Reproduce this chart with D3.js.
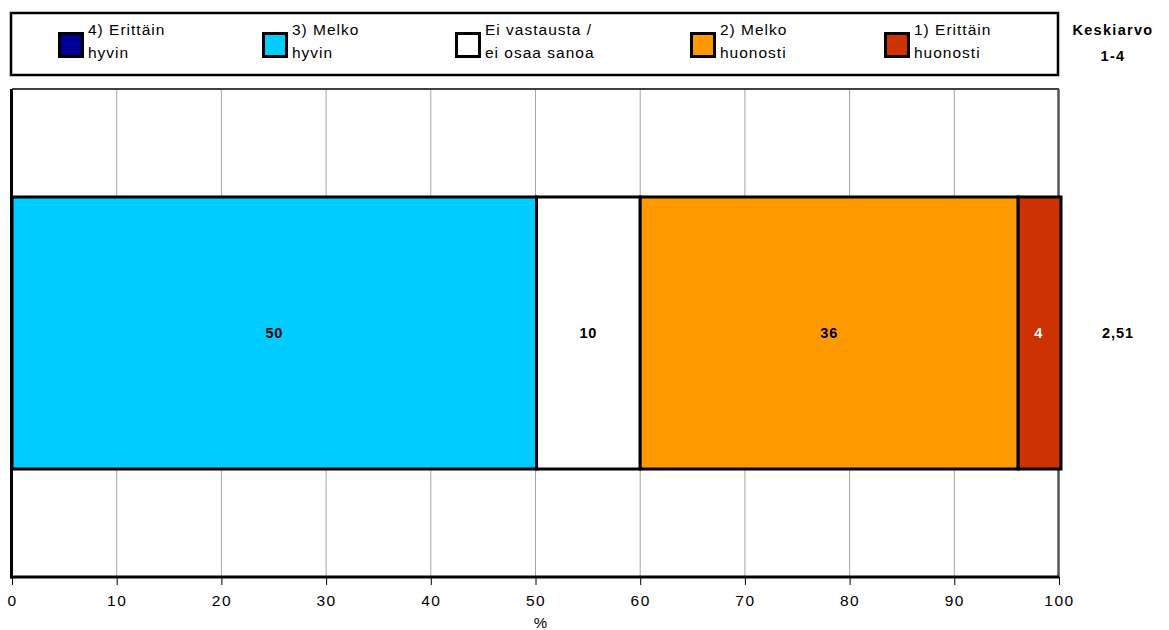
<!DOCTYPE html>
<html><head><meta charset="utf-8">
<script src="https://cdn.jsdelivr.net/npm/d3@7"></script>
<style>html,body{margin:0;padding:0;background:#fff;}svg{display:block;font-family:"Liberation Sans",Arial,sans-serif;}</style>
</head><body>
<svg id="c" width="1169" height="630"></svg>
<script>
const categories = [""];
const seriesNames = [["4) Erittäin","hyvin"],["3) Melko","hyvin"],["Ei vastausta /","ei osaa sanoa"],["2) Melko","huonosti"],["1) Erittäin","huonosti"]];
const seriesColors = ["#000099","#00CCFF","#FFFFFF","#FF9900","#CC3300"];
const labelColors = ["#fff","#000","#000","#000","#fff"];
const values = [0, 50.1, 9.9, 36.1, 3.9];
const meanValue = ["2,51"];
const meanHeader = ["Keskiarvo","1-4"];
const xTicks = [0,10,20,30,40,50,60,70,80,90,100];
const xTitle = "%";

const svg = d3.select("#c");
const L=12, R=1059, T=89, B=577;
const x = d3.scaleLinear().domain([0,100]).range([L,R]);
const y = d3.scaleBand().domain(categories).range([T,B]).paddingOuter(0.397).paddingInner(0);

// gridlines
svg.append("g").selectAll("line").data(xTicks.slice(1,-1)).join("line")
  .attr("x1",d=>x(d)).attr("x2",d=>x(d)).attr("y1",T).attr("y2",B)
  .attr("stroke","#a6a6a6").attr("stroke-width",1);

// frame
svg.append("line").attr("x1",L).attr("x2",R).attr("y1",T).attr("y2",T).attr("stroke","#404040").attr("stroke-width",2);
svg.append("line").attr("x1",R-0.5).attr("x2",R-0.5).attr("y1",T).attr("y2",B).attr("stroke","#555").attr("stroke-width",2.5);

// bars
let cum=0;
const segs = values.map((v,i)=>{const s={i,v,x0:cum,x1:cum+v}; cum+=v; return s;}).filter(s=>s.v>0);
const g = svg.append("g");
g.selectAll("rect").data(segs).join("rect")
  .attr("x",d=>x(d.x0)).attr("width",d=>x(d.x1)-x(d.x0)+(d.i===4?2:0))
  .attr("y",y(categories[0])).attr("height",y.bandwidth())
  .attr("fill",d=>seriesColors[d.i]).attr("stroke","#000").attr("stroke-width",3);
g.selectAll("text").data(segs).join("text")
  .attr("x",d=>x((d.x0+d.x1)/2)).attr("y",y(categories[0])+y.bandwidth()/2+5)
  .attr("text-anchor","middle").attr("font-weight","bold").attr("font-size",14.5).attr("letter-spacing",0.8)
  .attr("fill",d=>labelColors[d.i]).text(d=>d3.format(".0f")(d.v));

// left axis line (thick)
svg.append("line").attr("x1",L-0.5).attr("x2",L-0.5).attr("y1",T).attr("y2",B+1.5).attr("stroke","#000").attr("stroke-width",3);
// x axis
const ax = svg.append("g").attr("transform",`translate(0,${B})`)
  .call(d3.axisBottom(x).tickValues(xTicks).tickSize(8).tickPadding(10).tickFormat(d3.format("d")));
ax.select(".domain").attr("stroke","#000").attr("stroke-width",3).attr("d",`M${L-2},0H${R}`);
ax.selectAll(".tick line").attr("stroke","#000").attr("stroke-width",1);
ax.selectAll(".tick text").attr("font-size",15.5).attr("letter-spacing",1.5).attr("fill","#000").attr("font-family","Liberation Sans, Arial, sans-serif");
svg.append("text").attr("x",x(50)+5).attr("y",628).attr("text-anchor","middle").attr("font-size",15).text(xTitle);

// mean
svg.append("text").attr("x",1118).attr("y",y(categories[0])+y.bandwidth()/2+5).attr("text-anchor","middle")
  .attr("font-weight","bold").attr("font-size",14.5).attr("letter-spacing",1).text(meanValue[0]);
svg.append("g").selectAll("text").data(meanHeader).join("text")
  .attr("x",1113).attr("y",(d,i)=>35+i*26).attr("text-anchor","middle")
  .attr("font-weight","bold").attr("font-size",14.5).attr("letter-spacing",1.3).text(d=>d);

// legend
svg.append("rect").attr("x",11).attr("y",13).attr("width",1047).attr("height",62)
  .attr("fill","none").attr("stroke","#000").attr("stroke-width",2.5);
const legX = [58,262,455,690,884];
const lg = svg.append("g").selectAll("g").data(seriesNames).join("g")
  .attr("transform",(d,i)=>`translate(${legX[i]},0)`);
lg.append("rect").attr("x",1.5).attr("y",33.5).attr("width",23).attr("height",23)
  .attr("fill",(d,i)=>seriesColors[i]).attr("stroke","#000").attr("stroke-width",3);
lg.append("text").attr("x",30).attr("y",35).attr("font-size",15.5).attr("letter-spacing",1).text(d=>d[0]);
lg.append("text").attr("x",30).attr("y",58).attr("font-size",15.5).attr("letter-spacing",1).text(d=>d[1]);
</script>
</body></html>
